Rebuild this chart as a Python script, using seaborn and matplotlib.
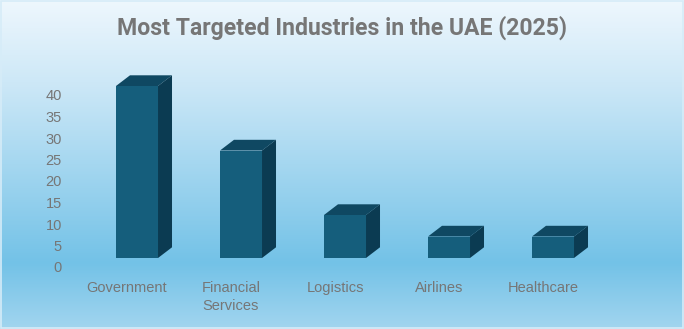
import numpy as np
import pandas as pd
import matplotlib
matplotlib.use("Agg")
import matplotlib.pyplot as plt
import matplotlib.transforms as mtransforms
from matplotlib.patches import Polygon, Rectangle
from matplotlib.colors import LinearSegmentedColormap
import seaborn as sns

categories = ["Government", "Financial\nServices", "Logistics", "Airlines", "Healthcare"]
values = [40, 25, 10, 5, 5]
yticks = [0, 5, 10, 15, 20, 25, 30, 35, 40]
title = "Most Targeted Industries in the UAE (2025)"

FRONT = "#155E7C"
TOP = "#0F4862"
SIDE = "#0B3B52"
TEXT = "#767676"

sns.set_theme(style="white")
plt.rcParams["font.family"] = ["Liberation Sans", "DejaVu Sans"]

W, H, DPI = 684, 329, 100
fig = plt.figure(figsize=(W / DPI, H / DPI), dpi=DPI)

# background gradient
bg = fig.add_axes([0, 0, 1, 1], zorder=-10)
cmap = LinearSegmentedColormap.from_list(
    "bg",
    [(0.0, (238/255, 247/255, 253/255)),
     (0.25, (205/255, 232/255, 247/255)),
     (0.5, (165/255, 215/255, 240/255)),
     (0.8, (115/255, 194/255, 231/255)),
     (1.0, (162/255, 213/255, 239/255))])
grad = np.linspace(0, 1, 256).reshape(-1, 1)
bg.imshow(grad, aspect="auto", cmap=cmap, extent=[0, 1, 0, 1], origin="upper")
bg.set_xlim(0, 1)
bg.set_ylim(0, 1)
bg.axis("off")
bg.add_patch(Rectangle((0.001, 0.002), 0.997, 0.995, fill=False,
                       edgecolor="#D6ECF8", linewidth=1.2, transform=bg.transAxes))

ax = fig.add_axes([75 / W, 62 / H, 520 / W, 193.5 / H])
ax.set_facecolor("none")
df = pd.DataFrame({"cat": categories, "val": values})
sns.barplot(data=df, x="cat", y="val", color=FRONT, saturation=1,
            width=0.404, ax=ax, linewidth=0, zorder=3)

ax.set_xlim(-0.5, 4.5)
ax.set_ylim(0, 45)

shift = mtransforms.ScaledTranslation(10 / DPI, 9 / DPI, fig.dpi_scale_trans)
tr = ax.transData + shift
px_x = 520 / 5.0   # pixels per x unit
px_y = 193.5 / 45  # pixels per y unit
ddx = 14 / px_x
ddy = 10.7 / px_y

for p in list(ax.patches):
    x0 = p.get_x()
    w = p.get_width()
    h = p.get_height()
    p.set_transform(tr)
    p.set_clip_on(False)
    top = Polygon([(x0, h), (x0 + w, h), (x0 + w + ddx, h + ddy), (x0 + ddx, h + ddy)],
                  closed=True, facecolor=TOP, edgecolor="none", transform=tr,
                  clip_on=False, zorder=3)
    side = Polygon([(x0 + w, 0), (x0 + w + ddx, ddy), (x0 + w + ddx, h + ddy), (x0 + w, h)],
                   closed=True, facecolor=SIDE, edgecolor="none", transform=tr,
                   clip_on=False, zorder=3)
    ax.add_patch(top)
    ax.add_patch(side)

ax.set_yticks(yticks)
ax.set_yticklabels([str(t) for t in yticks])
ax.set_xlabel("")
ax.set_ylabel("")
ax.tick_params(axis="y", length=0, pad=9.4, labelsize=10.5, labelcolor=TEXT)
ax.tick_params(axis="x", length=0, pad=10, labelsize=10.5, labelcolor=TEXT)
for lab in ax.get_xticklabels():
    lab.set_linespacing(1.35)
for s in ax.spines.values():
    s.set_visible(False)
ax.grid(False)

fig.text(0.5, 1 - 28 / H, title, ha="center", va="center",
         fontsize=16.6, fontweight="bold", color=TEXT,
         family=["Roboto", "DejaVu Sans"])

fig.savefig("out.png", dpi=DPI)
